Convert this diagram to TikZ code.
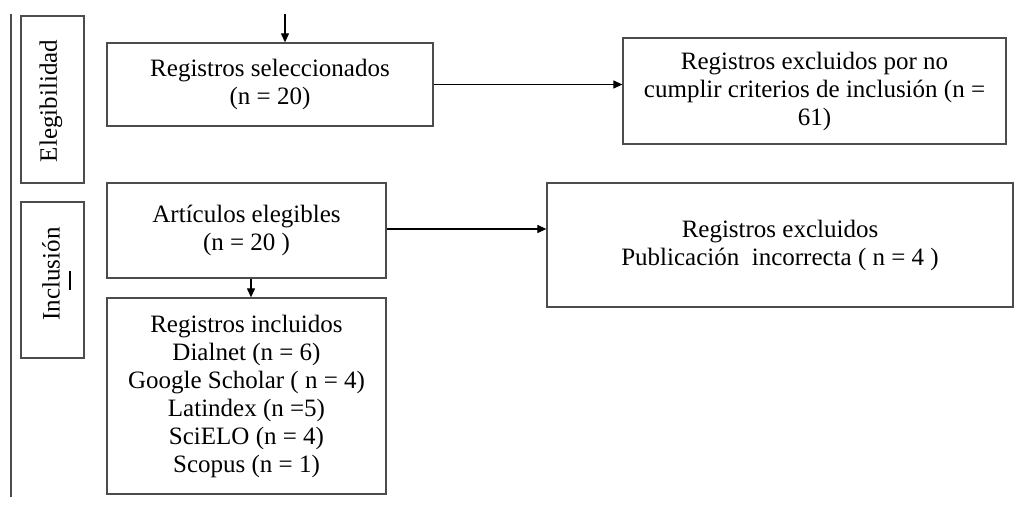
\documentclass[tikz,border=0pt]{standalone}
\usepackage{fontspec}
\setmainfont{Liberation Serif}
\usetikzlibrary{arrows.meta}
\tikzset{
  box/.style={draw=black!70, line width=1.3pt, align=center, inner sep=0pt,
    font=\fontsize{25}{28}\selectfont},
  phase/.style={rotate=90, font=\fontsize{25}{27}\selectfont},
  conn/.style={line width=1.2pt, -{Triangle[length=9pt,width=8pt]}},
}
\begin{document}
\begin{tikzpicture}[x=1pt,y=-1pt]
\useasboundingbox (0,0) rectangle (1015,505);
% left rule
\coordinate (l1) at (11,14);
\coordinate (l2) at (11,497);
\draw[black!70, line width=1.3pt] (l1) -- (l2);
% phase labels
\node[box, minimum width=63, minimum height=167] (eleg) at (52.5,99.5) {};
\node[phase] (elegt) at (51,101) {Elegibilidad};
\node[box, minimum width=63, minimum height=156] (incl) at (52.5,280) {};
\node[phase] (inclt) at (51,274) {Inclusión};
\coordinate (u1) at (70,271);
\coordinate (u2) at (70,290);
\draw[black, line width=1.3pt] (u1) -- (u2);
% main boxes
\node[box, minimum width=326, minimum height=83] (sel) at (270,84.5)
  {Registros seleccionados\\(n = 20)};
\node[box, minimum width=383, minimum height=106] (exc1) at (814.5,91)
  {Registros excluidos por no\\cumplir criterios de inclusión (n =\\61)};
\node[box, minimum width=279, minimum height=95] (art) at (246.5,230.5)
  {Artículos elegibles\\(n = 20 )};
\node[box, minimum width=466, minimum height=124] (exc2) at (780,245)
  {Registros excluidos\\Publicación\ \ incorrecta ( n = 4 )};
\node[box, minimum width=279, minimum height=196] (inc) at (246.5,396)
  {Registros incluidos\\Dialnet (n = 6)\\Google Scholar ( n = 4)\\Latindex (n =5)\\SciELO (n = 4)\\Scopus (n = 1)};
% connectors
\coordinate (top) at (285,14);
\draw[conn] (top) -- (top |- sel.north);
\draw[conn] (sel.east) -- (sel.east -| exc1.west);
\draw[conn] ([yshift=1.5]art.east) -- ([yshift=1.5]art.east -| exc2.west);
\draw[conn] ([xshift=4.5]art.south) -- ([xshift=4.5]inc.north);
\end{tikzpicture}
\end{document}
